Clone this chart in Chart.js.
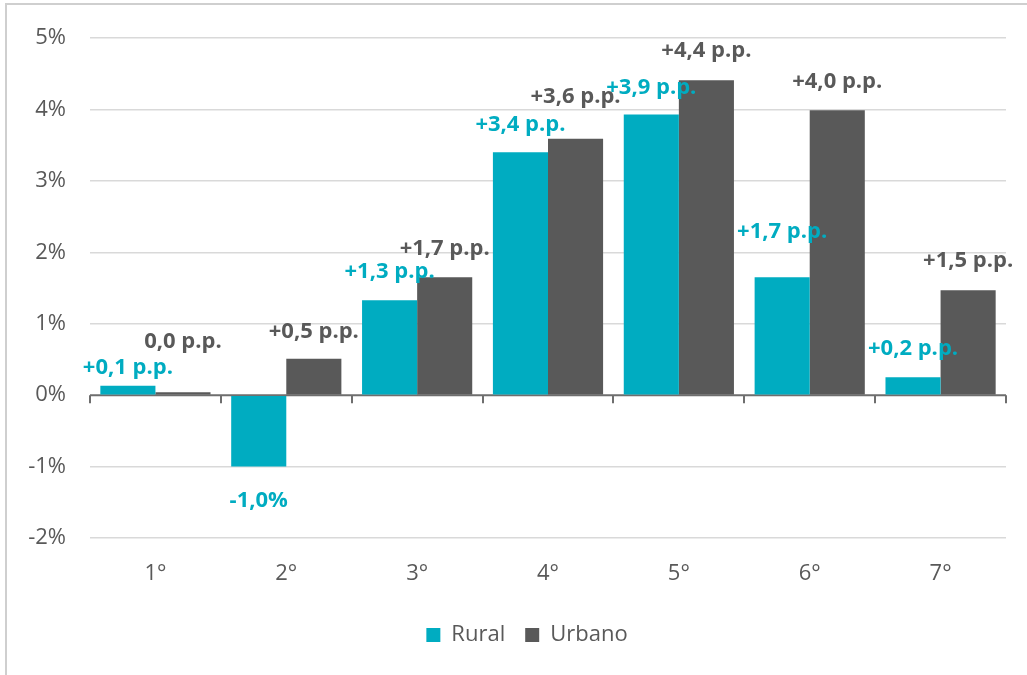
<!DOCTYPE html>
<html>
<head>
<meta charset="utf-8">
<script src="https://cdn.jsdelivr.net/npm/chart.js@4/dist/chart.umd.min.js"></script>
<style>
  html, body { margin: 0; padding: 0; background: #ffffff; }
  #wrap { position: relative; width: 1027px; height: 675px; overflow: hidden; }
  #frame { position: absolute; left: 5px; top: 3px; width: 1100px; height: 800px;
           border-left: 2px solid #cfcfcf; border-top: 2px solid #cfcfcf; pointer-events: none; }
</style>
</head>
<body>
<div id="wrap">
  <canvas id="c" width="1027" height="675"></canvas>
  <div id="frame"></div>
</div>
<script>
const categories = ['1°', '2°', '3°', '4°', '5°', '6°', '7°'];
const ruralValues = [0.13, -1.0, 1.33, 3.40, 3.93, 1.65, 0.25];
const urbanoValues = [0.04, 0.51, 1.65, 3.59, 4.41, 3.99, 1.47];
const ruralLabels = ['+0,1 p.p.', '-1,0%', '+1,3 p.p.', '+3,4 p.p.', '+3,9 p.p.', '+1,7 p.p.', '+0,2 p.p.'];
const urbanoLabels = ['0,0 p.p.', '+0,5 p.p.', '+1,7 p.p.', '+3,6 p.p.', '+4,4 p.p.', '+4,0 p.p.', '+1,5 p.p.'];
const seriesNames = ['Rural', 'Urbano'];
const yMin = -2, yMax = 5, yStep = 1;

const TEAL = '#00acc1';
const DARK = '#595959';
const FONT = "'Open Sans', sans-serif";

// label baseline offsets relative to bar end (px)
const labelOffsets = [
  [-12, 40, -22, -21, -20, -39, -22],
  [-44, -21, -22, -36, -23, -22, -23]
];

const axisPlugin = {
  id: 'zeroAxis',
  beforeDatasetsDraw(chart) {
    const ctx = chart.ctx, x = chart.scales.x, y = chart.scales.y;
    const y0 = y.getPixelForValue(0);
    ctx.save();
    ctx.strokeStyle = '#6e6e6e';
    ctx.lineWidth = 2;
    ctx.beginPath();
    ctx.moveTo(x.left, y0);
    ctx.lineTo(x.right, y0);
    const n = categories.length;
    for (let i = 0; i <= n; i++) {
      const px = Math.round(x.left + (x.right - x.left) * i / n);
      ctx.moveTo(px, y0);
      ctx.lineTo(px, y0 + 8);
    }
    ctx.stroke();
    ctx.restore();
  }
};

const labelPlugin = {
  id: 'barLabels',
  afterDatasetsDraw(chart) {
    const ctx = chart.ctx;
    const texts = [ruralLabels, urbanoLabels];
    const colors = [TEAL, DARK];
    ctx.save();
    ctx.font = "bold 22px " + FONT;
    ctx.textAlign = 'center';
    ctx.textBaseline = 'alphabetic';
    chart.data.datasets.forEach((ds, di) => {
      const meta = chart.getDatasetMeta(di);
      meta.data.forEach((bar, i) => {
        ctx.fillStyle = colors[di];
        ctx.fillText(texts[di][i], bar.x, bar.y + labelOffsets[di][i]);
      });
    });
    ctx.restore();
  }
};

const legendShift = {
  id: 'legendShift',
  afterLayout(chart) {
    if (chart.legend) {
      chart.legend.left += 14;
      chart.legend.right += 14;
    }
  }
};

new Chart(document.getElementById('c'), {
  type: 'bar',
  data: {
    labels: categories,
    datasets: [
      { label: seriesNames[0], data: ruralValues, backgroundColor: TEAL, borderWidth: 0 },
      { label: seriesNames[1], data: urbanoValues, backgroundColor: DARK, borderWidth: 0 }
    ]
  },
  options: {
    responsive: false,
    animation: false,
    devicePixelRatio: 1,
    layout: { padding: { left: 20, right: 21, top: 38, bottom: 19 } },
    datasets: { bar: { categoryPercentage: 0.842, barPercentage: 1.0 } },
    scales: {
      x: {
        grid: { display: false },
        border: { display: false },
        ticks: { color: DARK, font: { family: FONT, size: 22 }, padding: 15 },
        afterFit(scale) { scale.height = 66; }
      },
      y: {
        min: yMin, max: yMax,
        grid: {
          drawTicks: false,
          color: (c) => c.tick && c.tick.value === 0 ? 'rgba(0,0,0,0)' : '#d9d9d9',
          lineWidth: 1.5
        },
        border: { display: false },
        ticks: {
          stepSize: yStep,
          padding: 24,
          color: DARK,
          font: { family: FONT, size: 22 },
          callback: (v) => v + '%'
        },
        afterFit(scale) { scale.width = 70; }
      }
    },
    plugins: {
      legend: {
        position: 'bottom',
        labels: {
          boxWidth: 14, boxHeight: 14, padding: 20,
          color: DARK, font: { family: FONT, size: 22 }
        }
      },
      tooltip: { enabled: false }
    }
  },
  plugins: [axisPlugin, labelPlugin, legendShift]
});
</script>
</body>
</html>
